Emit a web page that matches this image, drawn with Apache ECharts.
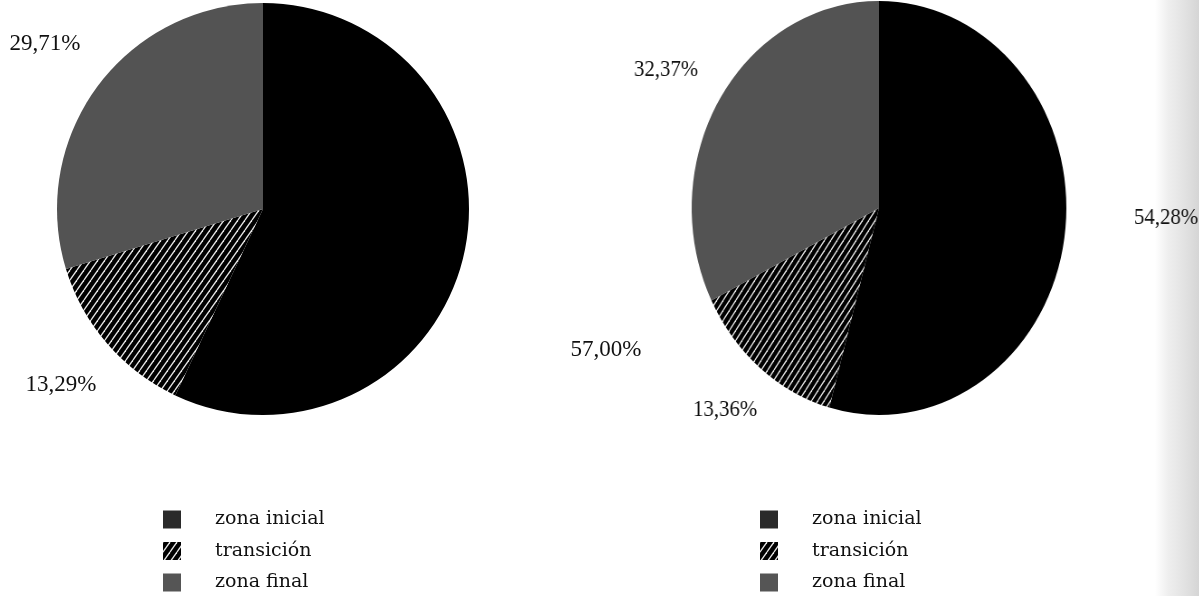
<!DOCTYPE html>
<html>
<head>
<meta charset="utf-8">
<script src="https://cdn.jsdelivr.net/npm/echarts@6/dist/echarts.min.js"></script>
<style>
  html, body { margin: 0; padding: 0; background: #fff; overflow: hidden; width: 1199px; height: 596px; }
  #main { position: absolute; left: 0; top: 0; width: 1199px; height: 596px; }
  /* the second pie is printed slightly narrower than it is tall */
  #right { position: absolute; left: 0; top: 0; width: 1400px; height: 596px;
           transform: scaleX(0.905); transform-origin: 879px 208px; }
</style>
</head>
<body>
<div id="main"></div>
<div id="right"></div>
<script>
// ---- data ----
const categories = ['zona inicial', 'transición', 'zona final'];
const valuesLeft = [57.00, 13.29, 29.71];
const valuesRight = [54.28, 13.36, 32.37];

// ---- layout ----
const SCALE_X = 0.905;
const RIGHT_CX = 879;
const labelPosLeft = [[606, 350], [61, 385], [45, 44]];
const labelPosRight = [[1166, 218], [725, 410], [666, 70]];

// white diagonal hatch on black for "transición"
function hatchPattern() {
  const w = 7, h = 10;
  const c = document.createElement('canvas');
  c.width = w; c.height = h;
  const g = c.getContext('2d');
  g.fillStyle = '#000';
  g.fillRect(0, 0, w, h);
  g.strokeStyle = 'rgba(255,255,255,0.9)';
  g.lineWidth = 1.3;
  [-w, 0, w].forEach(function (o) {
    g.beginPath();
    g.moveTo(o, h);
    g.lineTo(o + w, 0);
    g.stroke();
  });
  return { image: c, repeat: 'repeat' };
}

const sliceColors = ['#000000', hatchPattern(), '#535353'];
const legendColors = ['#2a2a2a', hatchPattern(), '#555555'];

function pct(v) { return v.toFixed(2).replace('.', ',') + '%'; }

function pieData(values) {
  return categories.map(function (name, i) {
    return { name: name, value: values[i], itemStyle: { color: sliceColors[i] } };
  });
}

const labelFont = { fontFamily: 'Liberation Serif', fontSize: 23, color: '#111' };

function legendFor(left) {
  return {
    orient: 'vertical',
    left: left,
    top: 510,
    height: 86,
    padding: 0,
    icon: 'rect',
    itemWidth: 18,
    itemHeight: 18,
    itemGap: 12.5,
    selectedMode: false,
    textStyle: { fontFamily: 'DejaVu Serif', fontSize: 19, color: '#111', padding: [0, 0, 0, 29] },
    data: categories.map(function (name, i) {
      return { name: name, itemStyle: { color: legendColors[i] } };
    })
  };
}

// ---- left pie + both legends ----
const chartMain = echarts.init(document.getElementById('main'), null, { renderer: 'canvas' });
chartMain.setOption({
  animation: false,
  backgroundColor: '#fff',
  legend: [legendFor(163), legendFor(760)],
  graphic: [{
    type: 'rect',
    z: -10,
    silent: true,
    shape: { x: 1155, y: 0, width: 44, height: 596 },
    style: {
      fill: new echarts.graphic.LinearGradient(0, 0, 1, 0, [
        { offset: 0, color: 'rgba(200,200,200,0)' },
        { offset: 0.3, color: 'rgba(200,200,200,0.3)' },
        { offset: 1, color: 'rgba(185,185,185,0.6)' }
      ])
    }
  }],
  series: [{
    type: 'pie',
    center: [263, 209],
    radius: 206,
    startAngle: 90,
    clockwise: true,
    avoidLabelOverlap: false,
    data: pieData(valuesLeft),
    itemStyle: { borderWidth: 0 },
    emphasis: { disabled: true },
    labelLine: { show: false },
    label: Object.assign({
      show: true,
      position: 'outside',
      formatter: function (p) { return pct(p.value); }
    }, labelFont),
    labelLayout: function (params) {
      const p = labelPosLeft[params.dataIndex];
      return { x: p[0], y: p[1], align: 'center', verticalAlign: 'middle' };
    }
  }]
});

// ---- right pie (horizontally compressed container) ----
function unscaleX(x) { return RIGHT_CX + (x - RIGHT_CX) / SCALE_X; }

const chartRight = echarts.init(document.getElementById('right'), null, { renderer: 'canvas' });
chartRight.setOption({
  animation: false,
  series: [{
    type: 'pie',
    center: [RIGHT_CX, 208],
    radius: 207,
    startAngle: 90,
    clockwise: true,
    avoidLabelOverlap: false,
    data: pieData(valuesRight),
    itemStyle: { borderWidth: 0 },
    emphasis: { disabled: true },
    labelLine: { show: false },
    label: Object.assign({
      show: true,
      position: 'outside',
      formatter: function (p) { return pct(p.value); }
    }, labelFont),
    labelLayout: function (params) {
      const p = labelPosRight[params.dataIndex];
      return { x: unscaleX(p[0]), y: p[1], align: 'center', verticalAlign: 'middle' };
    }
  }]
});
</script>
</body>
</html>
